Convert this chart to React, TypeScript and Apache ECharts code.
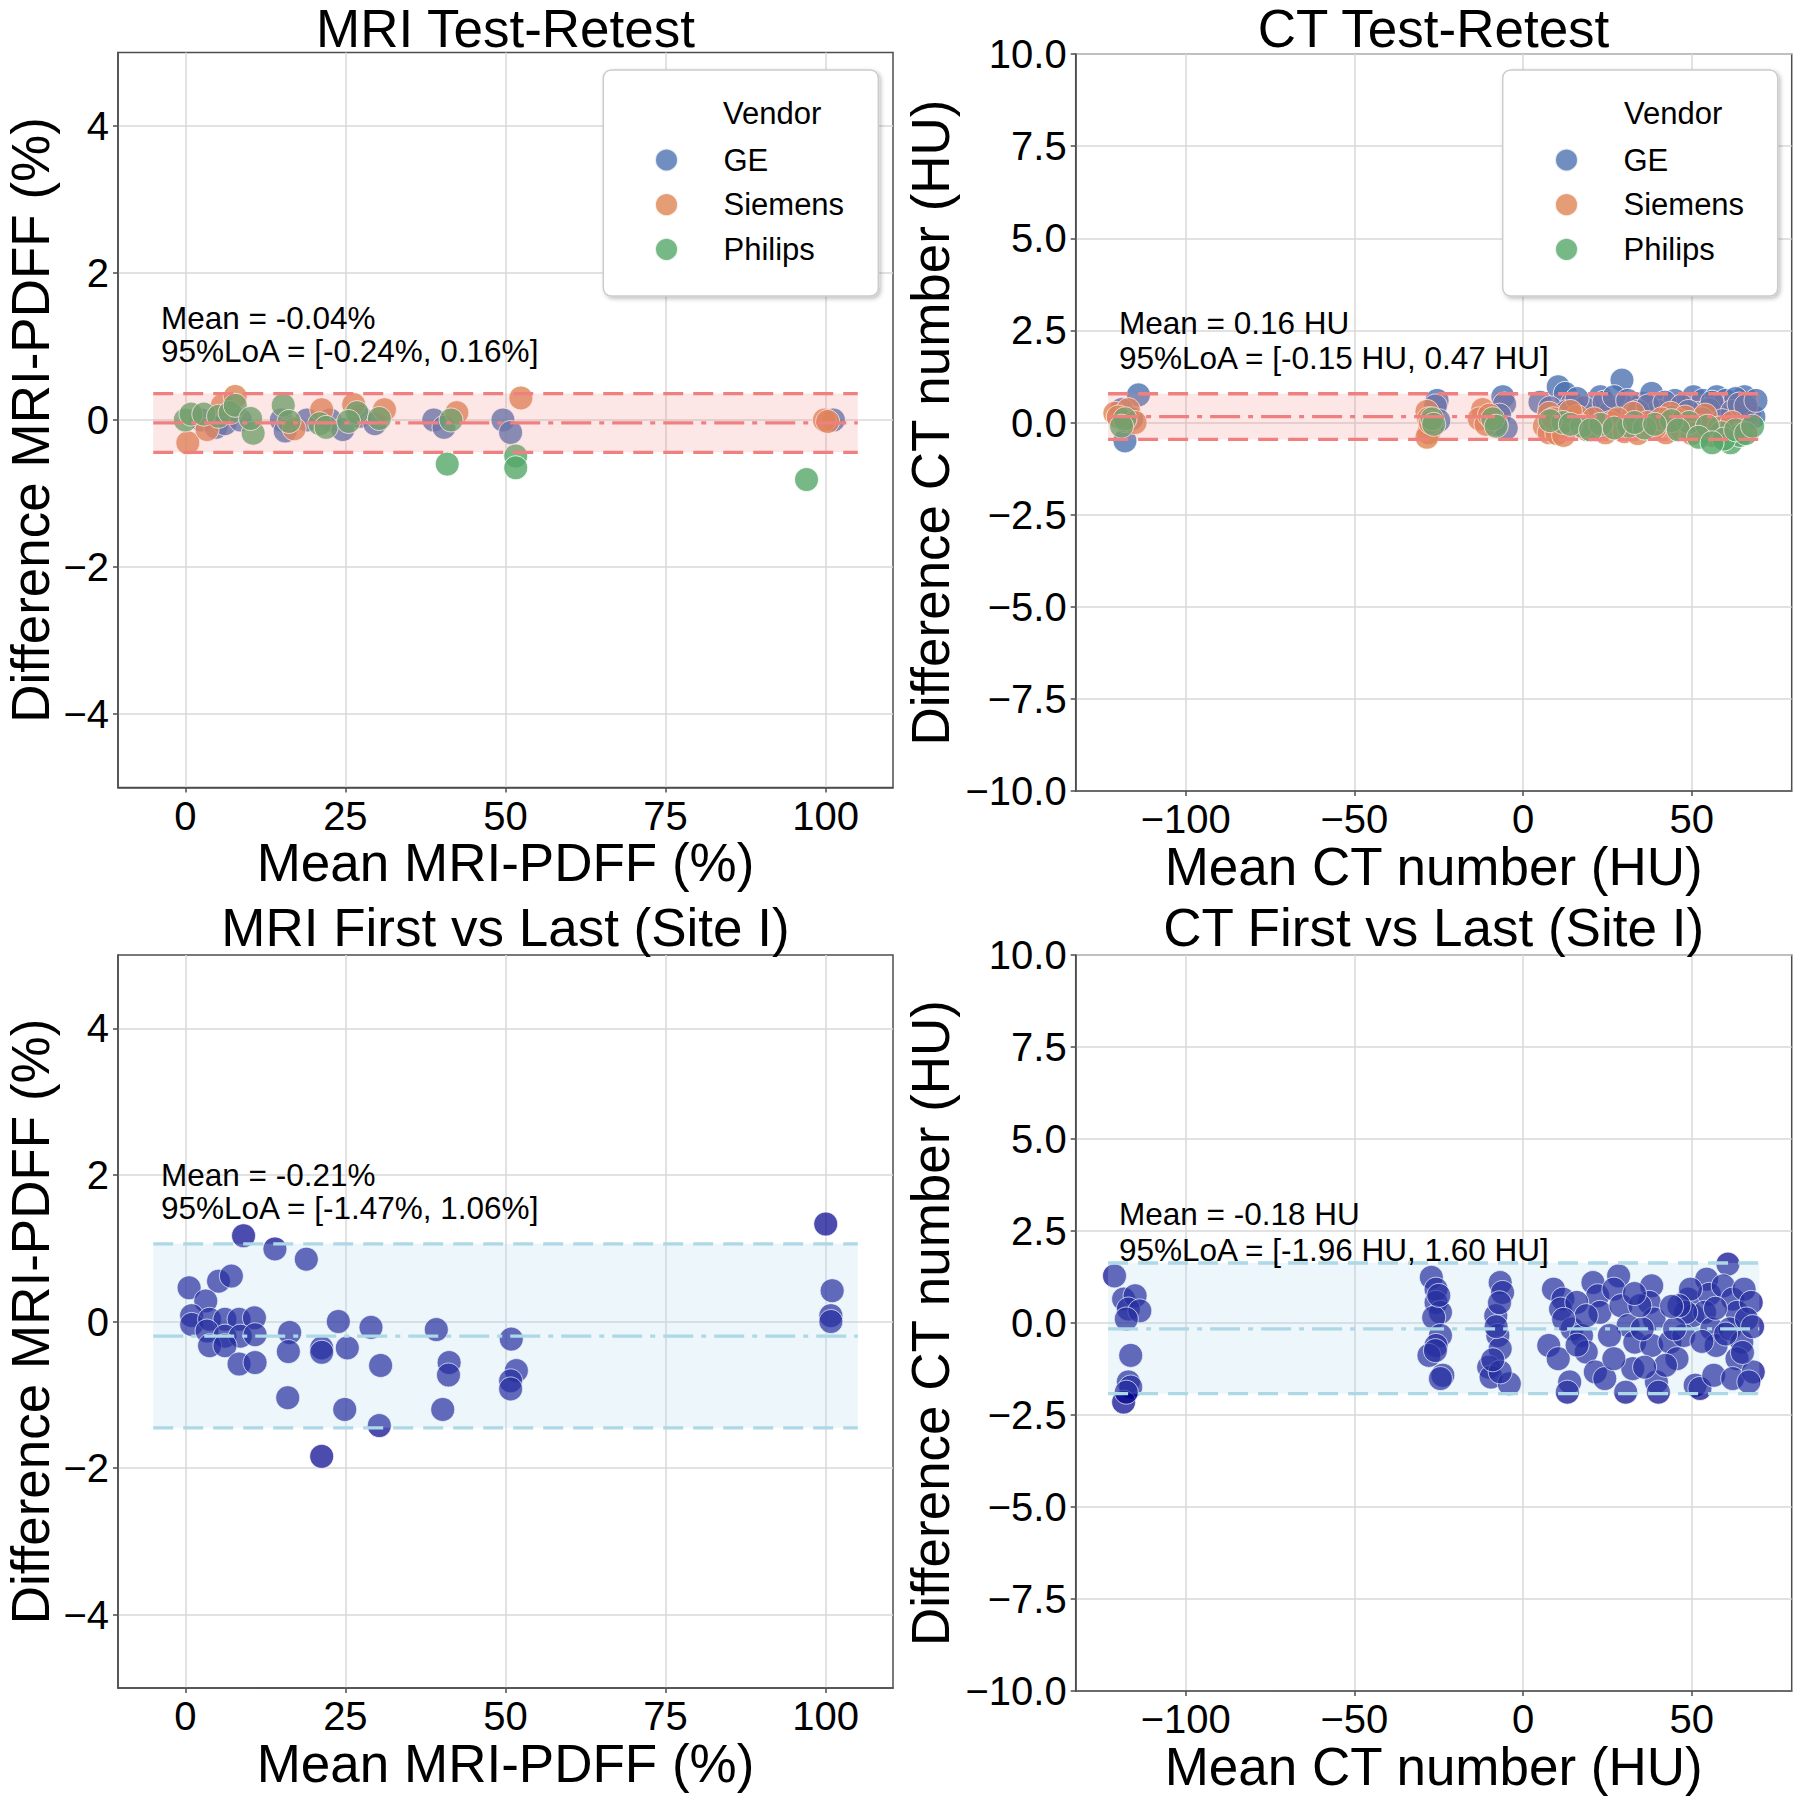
import React, { useEffect, useRef } from "react";
import * as echarts from "echarts";

// ---------- DATA ----------
// MRI test-retest: [mean PDFF %, difference %]
const mriTrGE = [[2.5,0.0],[4.8,-0.1],[6.2,-0.05],[8.6,0.0],[15.0,0.0],[15.6,-0.15],[19.0,0.0],[22.6,0.0],[24.6,-0.13],[27.2,0.05],[29.6,-0.05],[38.8,0.0],[40.4,-0.1],[49.6,0.0],[50.8,-0.17],[101.2,0.0]];
const mriTrSiemens = [[0.4,-0.31],[3.4,-0.13],[5.8,0.2],[7.8,0.32],[17.0,-0.12],[21.3,0.14],[26.3,0.21],[31.1,0.14],[42.4,0.1],[52.4,0.3],[99.8,0.0],[100.3,-0.02]];
const mriTrPhilips = [[0.0,0.0],[0.9,0.08],[2.9,0.08],[5.2,0.05],[7.0,0.1],[7.8,0.2],[10.6,-0.18],[10.2,0.02],[15.3,0.2],[16.2,-0.02],[21.0,-0.05],[22.0,-0.1],[26.8,0.1],[25.5,-0.02],[30.3,0.02],[40.9,-0.6],[41.5,0.0],[51.6,-0.49],[51.6,-0.65],[97.0,-0.81]];

// CT test-retest: [mean HU, difference HU]
const ctTrGE = [[-114,0.75],[-118,-0.5],[-119,0.35],[-116,0.1],[-25.5,0.6],[-26,0.45],[-25,0.05],[-27,-0.1],[-6,0.7],[-5.5,0.5],[-7,0.2],[-5,-0.15],[-8,-0.05],[10.4,0.97],[12.5,0.79],[14.6,0.52],[20.2,0.25],[22.9,0.7],[21.6,-0.2],[29.9,0.43],[29.3,1.15],[35.4,0.52],[38.1,0.79],[50.5,0.7],[53.3,0.6],[57.4,0.7],[58.7,0.25],[65.6,0.7],[67,0.25],[68.4,0.15],[61.5,0.43],[51.9,0.25],[45,0.6],[40,0.3],[60,0.6],[63,0.65],[55,0.35],[18,0.4],[26,0.3],[33,0.05],
  [5,0.55],[8,0.4],[13,0.3],[16,0.65],[24,0.55],[27,0.7],[31,0.6],[34,0.3],[37,0.45],[42,0.55],[47,0.45],[49,0.3],[56,0.55],[62,0.3],[64,0.5],[66,0.45],[69,0.6],[53,0.1],[59,0.05],[44,0.15]];
const ctTrSiemens = [[-121,0.25],[-117,0.35],[-118,0.05],[-120,0.15],[-115,0.0],[-28.5,0.3],[-28,0.1],[-28,-0.28],[-28.5,-0.4],[-27.5,0.0],[-12,0.35],[-13,0.1],[-11,-0.05],[-10,0.2],[7.7,0.25],[6.3,-0.1],[7.7,-0.28],[16,0.16],[25.8,0.0],[24.4,-0.28],[32.6,0.25],[36.8,0.0],[43.7,0.25],[42.3,-0.28],[46.4,0.05],[56,-0.35],[52.6,-0.1],[10,-0.3],[19,-0.2],[28,0.1],[39,-0.15],[47,-0.2],
  [9,0.1],[12,-0.35],[14,0.3],[21,0.1],[30,-0.25],[34,-0.3],[41,0.1],[48,0.15],[50,-0.3],[54,0.2],[58,-0.15],[62,0.0]];
const ctTrPhilips = [[-118,0.1],[-119,-0.1],[-27,0.1],[-26.5,-0.05],[-9,0.1],[-8,-0.1],[11.8,0.0],[17.4,-0.1],[31.3,-0.1],[49.2,0.0],[58.7,-0.28],[61.5,-0.55],[64.3,-0.35],[54.6,-0.1],[59.5,-0.45],[23,-0.05],[36,-0.15],[44,0.05],
  [8,0.05],[14,-0.05],[20,-0.2],[27,-0.15],[33,0.0],[39,-0.05],[46,-0.2],[52,-0.4],[56,-0.55],[63,-0.2],[66,-0.3],[68,-0.1]];

// MRI first vs last (Site I)
const mriFl = [[9.1,1.17],[14.0,0.99],[18.9,0.85],[0.6,0.46],[5.2,0.55],[7.2,0.62],[3.2,0.28],[1.0,0.08],[1.0,-0.04],[3.8,0.03],[6.2,0.03],[8.4,0.03],[10.8,0.05],[3.4,-0.13],[6.2,-0.2],[8.6,-0.2],[10.9,-0.18],[3.8,-0.33],[6.2,-0.33],[8.4,-0.58],[10.9,-0.56],[16.3,-0.15],[16.1,-0.41],[16.0,-1.04],[21.3,-0.36],[21.3,-0.42],[23.9,0.0],[25.3,-0.36],[24.9,-1.2],[29.0,-0.08],[30.5,-0.6],[30.3,-1.42],[21.3,-1.84],[39.2,-0.11],[41.2,-0.56],[41.1,-0.73],[40.2,-1.2],[50.9,-0.24],[51.7,-0.67],[50.8,-0.81],[50.8,-0.92],[100.0,1.33],[101.0,0.42],[100.8,0.08],[100.8,0.0]];

// CT first vs last (Site I)
const ctFl = [[-121.1,1.28],[-118.4,0.65],[-115,0.74],[-117,0.38],[-113.6,0.33],[-117.6,0.11],[-116.3,-0.88],[-117,-1.6],[-116.3,-1.74],[-118.4,-2.15],[-117.6,-1.88],
  [-27.2,1.24],[-25.8,0.92],[-25.8,0.56],[-24.5,0.29],[-26.5,0.15],[-24.5,-0.34],[-25.8,-0.61],[-27.9,-0.88],[-23.8,-1.42],[-24.5,-1.51],[-26,-0.75],[-25,0.75],
  [-6.8,1.1],[-6.1,0.83],[-8.1,0.2],[-7.5,-0.34],[-6.8,-0.7],[-10.2,-1.2],[-9.5,-1.47],[-4.1,-1.65],[-6.8,-1.33],[-7,0.55],[-8,-0.1],[-9,-1.0],
  [9,0.92],[11.8,0.65],[11.1,0.38],[7.6,-0.61],[10.4,-0.97],[13.8,-1.6],[13.1,-1.88],[14.5,-0.16],[17.3,-0.34],[18.7,-0.79],[20.7,1.1],[22.1,0.74],[22.8,0.29],[21.4,-1.33],[24.2,-1.51],
  [28.3,1.28],[26.9,0.92],[29,0.47],[31.1,-0.07],[33.1,-0.52],[32.5,-1.24],[30.4,-1.88],[38.1,1.01],[37.4,0.56],[38.8,0.11],[38.1,-0.61],[39.5,-1.6],[40.1,-1.88],[43.5,-0.52],[45.6,-0.97],
  [48.9,0.65],[50.3,0.2],[47.6,-0.34],[51,-1.69],[52.4,-1.78],[54.4,1.19],[55.2,0.78],[53.8,0.29],[55.9,-0.16],[57.2,-0.61],[56.5,-1.42],[60.7,1.6],[59.3,1.01],[62.1,0.65],[63.4,0.29],
  [61.3,-0.16],[64.8,-0.52],[63.4,-0.97],[62.1,-1.51],[65.5,0.92],[67.6,0.56],[68.2,-1.33],[66.9,-1.6],[66.2,0.11],[49.6,0.92],[48.2,0.29],[46.2,0.47],[15.9,0.56],[18.7,0.2],[25.6,-0.34],
  [26.9,-0.97],[35.3,-0.16],[34.6,0.47],[42.2,-1.15],[44.9,-0.16],[12,0.1],[16,-0.6],[33,0.8],[44,0.45],[57,0.4],[60,-0.3],[65,-0.8],[68,-0.1],[53,-0.5],[36,-1.2]];

// Bland-Altman limits: [mean, lower LoA, upper LoA]
const mriTrLimits = [-0.04, -0.44, 0.36];
const ctTrLimits = [0.16, -0.46, 0.78];
const mriFlLimits = [-0.2, -1.45, 1.06];
const ctFlLimits = [-0.16, -1.92, 1.63];
const mriBandX = [-5, 105];
const ctBandX = [-123, 70];

const mriXTicks = [0, 25, 50, 75, 100];
const mriYTicks = [-4, -2, 0, 2, 4];
const ctXTicks = [-100, -50, 0, 50];

const vendors = ["GE", "Siemens", "Philips"];

// ---------- STYLE ----------
const FONT = "'Liberation Sans', Arial, Helvetica, sans-serif";
const AXIS = "#4d4d4d";
const GRIDC = "#d9d9d9";
const VCOL = { GE: "#4C72B0", Siemens: "#DD8452", Philips: "#55A868" };
const RED = "#F08080";
const BLUE = "#ADD8E6";
const NAME_SIZE = 53;

const minus = (v: number, d: number) => (v < 0 ? "\u2212" : "") + Math.abs(v).toFixed(d);

function xAxisCfg(gridIndex: number, min: number, max: number, ticks: number[], name: string, nameGap: number) {
  return {
    type: "value", gridIndex, min, max, name, nameLocation: "middle", nameGap,
    nameTextStyle: { fontSize: NAME_SIZE, fontFamily: FONT, color: "#000" },
    axisLine: { show: true, onZero: false, lineStyle: { color: AXIS, width: 1.5 } },
    axisTick: { show: true, length: 5, customValues: ticks, lineStyle: { color: AXIS, width: 1.5 } },
    axisLabel: { customValues: ticks, fontSize: 40, fontFamily: FONT, color: "#000", margin: 8, formatter: (v: number) => minus(v, 0) },
    splitLine: { show: true, lineStyle: { color: GRIDC, width: 1.5 } },
  };
}

function yAxisCfg(gridIndex: number, ct: boolean, name: string, nameGap: number) {
  const base: any = {
    type: "value", gridIndex, name, nameLocation: "middle", nameGap,
    nameTextStyle: { fontSize: NAME_SIZE, fontFamily: FONT, color: "#000" },
    axisLine: { show: true, onZero: false, lineStyle: { color: AXIS, width: 1.5 } },
    splitLine: { show: true, lineStyle: { color: GRIDC, width: 1.5 } },
  };
  if (ct) {
    return {
      ...base, min: -10, max: 10, interval: 2.5,
      axisTick: { show: true, length: 5, lineStyle: { color: AXIS, width: 1.5 } },
      axisLabel: { fontSize: 40, fontFamily: FONT, color: "#000", margin: 9, formatter: (v: number) => minus(v, 1) },
    };
  }
  return {
    ...base, min: -5, max: 5,
    axisTick: { show: true, length: 5, customValues: mriYTicks, lineStyle: { color: AXIS, width: 1.5 } },
    axisLabel: { customValues: mriYTicks, fontSize: 40, fontFamily: FONT, color: "#000", margin: 9, formatter: (v: number) => minus(v, 0) },
  };
}

function scatter(name: string, data: number[][], color: string, idx: number, opacity: number) {
  return {
    type: "scatter", name, data, xAxisIndex: idx, yAxisIndex: idx, symbolSize: 24, z: 3,
    itemStyle: { color, opacity, borderColor: "#ffffff", borderWidth: 1 },
  };
}

function limitSeries(idx: number, xr: number[], lim: number[], color: string, fill: string) {
  const [mean, lo, hi] = lim;
  const base = { type: "line", xAxisIndex: idx, yAxisIndex: idx, symbol: "none", silent: true, z: 5 };
  return [
    {
      ...base, name: "mean" + idx, data: [[xr[0], mean], [xr[1], mean]],
      lineStyle: { color, width: 3.3, type: [30, 8, 5, 8] },
      markArea: { silent: true, z: 4, itemStyle: { color: fill }, data: [[{ coord: [xr[0], lo] }, { coord: [xr[1], hi] }]] },
    },
    { ...base, name: "hi" + idx, data: [[xr[0], hi], [xr[1], hi]], lineStyle: { color, width: 3.3, type: [20, 10] } },
    { ...base, name: "lo" + idx, data: [[xr[0], lo], [xr[1], lo]], lineStyle: { color, width: 3.3, type: [20, 10] } },
  ];
}

function txt(text: string, x: number, y: number, size: number, align = "left") {
  return { type: "text", x, y, z: 30, silent: true, style: { text, x: 0, y: 0, fontSize: size, fontFamily: FONT, fill: "#000", align, verticalAlign: "middle" } };
}

function legendBox(x: number, y: number) {
  return {
    type: "rect", z: 10, silent: true,
    shape: { x, y, width: 275, height: 226, r: 8 },
    style: { fill: "#ffffff", stroke: "#cccccc", lineWidth: 1.5, shadowBlur: 4, shadowOffsetX: 2, shadowOffsetY: 2, shadowColor: "rgba(0,0,0,0.25)" },
  };
}

function legendCfg(left: number) {
  return {
    data: vendors, orient: "vertical", left, top: 138, itemWidth: 104, itemHeight: 23, itemGap: 10.7,
    icon: "circle", z: 20, selectedMode: false, padding: 5,
    textStyle: { fontSize: 31, fontFamily: FONT, color: "#000", lineHeight: 34 },
  };
}

export default function App() {
  const ref = useRef<HTMLDivElement>(null);
  useEffect(() => {
    const chart = echarts.init(ref.current!, null, { renderer: "svg" });
    const option: any = {
      animation: false,
      backgroundColor: "#ffffff",
      grid: [
        { left: 118, top: 52.5, width: 775, height: 735 },
        { left: 1075.7, top: 54, width: 716, height: 737 },
        { left: 118, top: 955, width: 775, height: 733 },
        { left: 1075.7, top: 955, width: 716, height: 736 },
      ].map((g) => ({ ...g, show: true, borderColor: AXIS, borderWidth: 1.5, backgroundColor: "transparent" })),
      xAxis: [
        xAxisCfg(0, -10.5, 110.5, mriXTicks, "Mean MRI-PDFF (%)", 46),
        xAxisCfg(1, -132.6, 79.6, ctXTicks, "Mean CT number (HU)", 40),
        xAxisCfg(2, -10.5, 110.5, mriXTicks, "Mean MRI-PDFF (%)", 47),
        xAxisCfg(3, -132.6, 79.6, ctXTicks, "Mean CT number (HU)", 44),
      ],
      yAxis: [
        yAxisCfg(0, false, "Difference MRI-PDFF (%)", 61),
        yAxisCfg(1, true, "Difference CT number (HU)", 119),
        yAxisCfg(2, false, "Difference MRI-PDFF (%)", 61),
        yAxisCfg(3, true, "Difference CT number (HU)", 119),
      ],
      legend: [legendCfg(649), legendCfg(1549)],
      series: [
        scatter("GE", mriTrGE, VCOL.GE, 0, 0.8),
        scatter("Siemens", mriTrSiemens, VCOL.Siemens, 0, 0.8),
        scatter("Philips", mriTrPhilips, VCOL.Philips, 0, 0.8),
        scatter("GE", ctTrGE, VCOL.GE, 1, 0.8),
        scatter("Siemens", ctTrSiemens, VCOL.Siemens, 1, 0.8),
        scatter("Philips", ctTrPhilips, VCOL.Philips, 1, 0.8),
        scatter("Site I MRI", mriFl, "#00008B", 2, 0.7),
        scatter("Site I CT", ctFl, "#00008B", 3, 0.7),
        ...limitSeries(0, mriBandX, mriTrLimits, RED, "rgba(240,128,128,0.2)"),
        ...limitSeries(1, ctBandX, ctTrLimits, RED, "rgba(240,128,128,0.2)"),
        ...limitSeries(2, mriBandX, mriFlLimits, BLUE, "rgba(173,216,230,0.22)"),
        ...limitSeries(3, ctBandX, ctFlLimits, BLUE, "rgba(173,216,230,0.22)"),
      ],
      graphic: [
        legendBox(603.3, 70),
        legendBox(1502.7, 70),
        txt("Vendor", 723, 113, 31),
        txt("Vendor", 1624, 113, 31),
        txt("MRI Test-Retest", 505.5, 28, NAME_SIZE, "center"),
        txt("CT Test-Retest", 1433.6, 28, NAME_SIZE, "center"),
        txt("MRI First vs Last (Site I)", 505.5, 927, NAME_SIZE, "center"),
        txt("CT First vs Last (Site I)", 1433.6, 927, NAME_SIZE, "center"),
        txt("Mean = -0.04%", 161, 318, 31.5),
        txt("95%LoA = [-0.24%, 0.16%]", 161, 351, 31.5),
        txt("Mean = 0.16 HU", 1119, 323, 31.5),
        txt("95%LoA = [-0.15 HU, 0.47 HU]", 1119, 358, 31.5),
        txt("Mean = -0.21%", 161, 1175, 31.5),
        txt("95%LoA = [-1.47%, 1.06%]", 161, 1208, 31.5),
        txt("Mean = -0.18 HU", 1119, 1214, 31.5),
        txt("95%LoA = [-1.96 HU, 1.60 HU]", 1119, 1250, 31.5),
      ],
    };
    chart.setOption(option);
    return () => chart.dispose();
  }, []);
  return <div ref={ref} style={{ position: "fixed", left: 0, top: 0, width: 1800, height: 1798, background: "#fff" }} />;
}
